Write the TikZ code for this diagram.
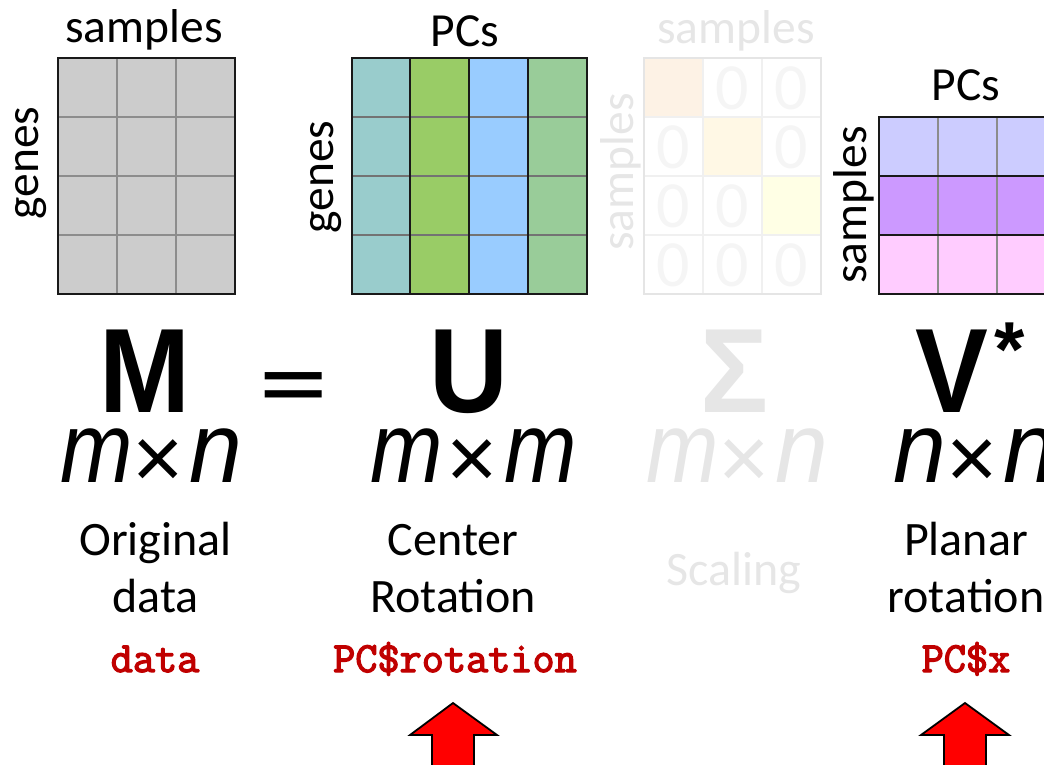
\documentclass[tikz,border=0pt]{standalone}
\usepackage{fontspec}
\setmainfont{Carlito}
\newfontfamily\arialf{Liberation Sans}
\newfontfamily\codef[FakeBold=3]{Latin Modern Mono}
\definecolor{faint}{HTML}{E6E6E6}
\definecolor{codered}{HTML}{C00000}
\newcommand{\fs}[1]{\fontsize{#1}{#1}\selectfont}
\tikzset{
  x=1pt,y=-1pt,
  lab/.style={inner sep=0pt,anchor=base,font=\fs{47.5}},
  desc/.style={inner sep=0pt,anchor=base,font=\fs{48}},
  big/.style={inner sep=0pt,anchor=base,xscale=.91,font=\arialf\bfseries\fs{120}},
  dims/.style={inner sep=0pt,anchor=base,font=\arialf\itshape\fs{100}},
  code/.style={inner sep=0pt,anchor=base,text=codered,font=\codef\fs{43}},
  zero/.style={inner sep=0pt,anchor=center,text=black!4,font=\fs{66}},
  up/.style={draw=black,line width=1.8pt,fill=red,line join=miter},
  cellline/.style={line width=1.2pt,draw=black!45},
  frameline/.style={line width=2pt,draw=black!90},
}
\newcommand{\narm}{\scalebox{.87}[1]{m}}
\newcommand{\narn}{\scalebox{.95}[1]{n}}
\newcommand{\dimtxt}[2]{#1{\upshape\fs{88}\raisebox{-6pt}{×}}\hspace{5pt}#2}
\newcommand{\dimwide}[2]{#1\hspace{3pt}{\upshape\fs{88}\raisebox{-6pt}{×}}\hspace{7pt}#2}
\begin{document}
\begin{tikzpicture}
\useasboundingbox (0,0) rectangle (1044,764);
\clip (0,0) rectangle (1044,764);
% M matrix
\fill[black!20] (58,58) rectangle (235,294);
\foreach \c in {117,176} \draw[cellline] (\c,58) -- (\c,294);
\foreach \c in {117,176,235} \draw[cellline] (58,\c) -- (235,\c);
\draw[frameline] (58,58) rectangle (235,294);
% U matrix
\fill[fill={rgb,255:red,153;green,204;blue,204}] (352,58) rectangle (410,294);
\fill[fill={rgb,255:red,153;green,204;blue,102}] (410,58) rectangle (469,294);
\fill[fill={rgb,255:red,153;green,204;blue,255}] (469,58) rectangle (528,294);
\fill[fill={rgb,255:red,153;green,204;blue,153}] (528,58) rectangle (587,294);
\foreach \c in {117,176,235} \draw[cellline,draw=black!55] (352,\c) -- (587,\c);
\foreach \c in {410,469,528} \draw[frameline] (\c,58) -- (\c,294);
\draw[frameline] (352,58) rectangle (587,294);
% Sigma matrix
\fill[fill={rgb,255:red,253;green,242;blue,229}] (644,58) rectangle (703,117);
\fill[fill={rgb,255:red,255;green,248;blue,229}] (703,117) rectangle (762,176);
\fill[fill={rgb,255:red,255;green,255;blue,229}] (762,176) rectangle (821,235);
\foreach \c in {703,762} \draw[line width=1.2pt,draw=black!6] (\c,58) -- (\c,294);
\foreach \c in {117,176,235} \draw[line width=1.2pt,draw=black!6] (644,\c) -- (821,\c);
\draw[line width=1.8pt,draw=black!10] (644,58) rectangle (821,294);
\foreach \x/\y/\n in {732/88/za,791/88/zb,673/147/zc,791/147/zd,673/206/ze,732/206/zf,673/265/zg,732/265/zh,791/265/zi}
  \node[zero] (\n) at (\x,\y) {0};
% V matrix
\fill[fill={rgb,255:red,204;green,204;blue,255}] (879,117) rectangle (1050,176);
\fill[fill={rgb,255:red,204;green,153;blue,255}] (879,176) rectangle (1050,235);
\fill[fill={rgb,255:red,255;green,204;blue,255}] (879,235) rectangle (1050,294);
\foreach \c in {938,997} \draw[cellline] (\c,117) -- (\c,294);
\foreach \c in {176,235} \draw[frameline] (879,\c) -- (1050,\c);
\draw[frameline] (879,117) rectangle (1050,294);
% axis labels
\node[lab] (s1) at (144,42) {samples};
\node[lab] (p1) at (465,46) {PCs};
\node[lab,text=faint] (s2) at (736,43) {samples};
\node[lab] (p2) at (966,100) {PCs};
\node[lab,rotate=90] (g1) at (38,163) {genes};
\node[lab,rotate=90] (g2) at (333,177) {genes};
\node[lab,rotate=90,text=faint] (s3) at (633,172) {samples};
\node[lab,rotate=90] (s4) at (866,205) {samples};
% letters
\node[big] (lM) at (145,412) {M};
\node[big,xscale=1.04,yscale=.56] (leq) at (294,407) {=};
\node[big] (lU) at (469,412) {U};
\node[big,xscale=1.04,text=faint] (lS) at (735,412) {Σ};
\node[big] (lV) at (952,412) {V};
\node[inner sep=0pt,anchor=base,font=\arialf\bfseries\fs{78}] (lstar) at (1010,376) {*};
% dims
\node[dims] (d1) at (151,482) {\dimtxt{\narm}{\narn}};
\node[dims] (d2) at (474,482) {\dimwide{\narm}{\narm}};
\node[dims,text=faint] (d3) at (737,482) {\dimtxt{\narm}{\narn}};
\node[dims] (d4) at (975,482) {\dimtxt{\narn}{\narn}};
% descriptions
\node[desc] (t1) at (155.5,555) {Original};
\node[desc] (t2) at (155.5,612) {data};
\node[desc] (t3) at (453,555) {Center};
\node[desc] (t4) at (453,612) {Rotation};
\node[desc,text=faint] (t5) at (734,585) {Scaling};
\node[desc] (t6) at (966,555) {Planar};
\node[desc] (t7) at (966,612) {rotation};
% code
\node[code] (c1) at (155,672) {data};
\node[code] (c2) at (455,672) {PC\$rotation};
\node[code] (c3) at (966,672) {PC\$x};
% arrows
\draw[up] (453,703) -- (497,735) -- (474,735) -- (474,770) -- (432,770) -- (432,735) -- (410,735) -- cycle;
\draw[up] (965,703) -- (1009,735) -- (986,735) -- (986,770) -- (944,770) -- (944,735) -- (921,735) -- cycle;
\end{tikzpicture}
\end{document}
